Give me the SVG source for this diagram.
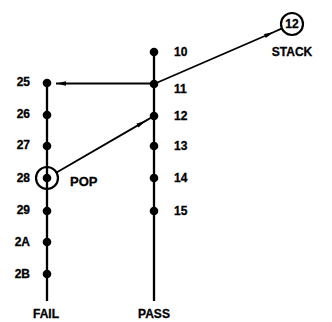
<svg xmlns="http://www.w3.org/2000/svg" width="332" height="322" viewBox="0 0 332 322">
<defs>
<marker id="ah" viewBox="0 0 10 6" refX="10" refY="3" markerWidth="10" markerHeight="6" markerUnits="userSpaceOnUse" orient="auto">
<path d="M0,0.8 L10,3 L0,5.2 Z" fill="#000"/>
</marker>
<style>
text{font-family:"Liberation Sans",Arial,sans-serif;font-weight:bold;font-size:12px;fill:#000;stroke:#000;stroke-width:0.3}
.l{text-anchor:end}
.c{text-anchor:middle}
.bus{stroke:#000;stroke-width:2.3;fill:none}
.cn{stroke:#000;stroke-width:1.9;fill:none}
.dot{fill:#000}
.ring{fill:none;stroke:#000;stroke-width:2.2}
</style>
</defs>
<rect width="332" height="322" fill="#fff"/>
<g id="connectors">
<path class="bus" d="M47,83 L47,301"/>
<path class="bus" d="M154,52 L154,301"/>
<path class="cn" d="M154,83.5 L56,83.5" marker-end="url(#ah)"/>
<path class="cn" d="M154,84 L274,32 L282,28.4" marker-mid="url(#ah)"/>
<path class="cn" d="M56.5,172.5 L146,120.6 L154,116" marker-mid="url(#ah)"/>
</g>
<g id="n10"><circle class="dot" cx="154" cy="52" r="4.3"/><text x="174" y="56">10</text></g>
<g id="n11"><circle class="dot" cx="154" cy="84" r="4.3"/><text x="174" y="93">11</text></g>
<g id="n12"><circle class="dot" cx="154" cy="116" r="4.3"/><text x="174" y="120">12</text></g>
<g id="n13"><circle class="dot" cx="154" cy="146" r="4.3"/><text x="174" y="150">13</text></g>
<g id="n14"><circle class="dot" cx="154" cy="178" r="4.3"/><text x="174" y="182">14</text></g>
<g id="n15"><circle class="dot" cx="154" cy="211" r="4.3"/><text x="174" y="215">15</text></g>
<g id="n25"><circle class="dot" cx="47" cy="83" r="4.3"/><text class="l" x="30" y="86">25</text></g>
<g id="n26"><circle class="dot" cx="47" cy="115" r="4.3"/><text class="l" x="30" y="118">26</text></g>
<g id="n27"><circle class="dot" cx="47" cy="146" r="4.3"/><text class="l" x="30" y="149">27</text></g>
<g id="n28"><circle class="dot" cx="47" cy="178" r="4.3"/><circle class="ring" cx="47" cy="178" r="11"/><text class="l" x="30" y="182">28</text><text x="70" y="186" style="font-size:13px">POP</text></g>
<g id="n29"><circle class="dot" cx="47" cy="211" r="4.3"/><text class="l" x="30" y="214">29</text></g>
<g id="n2A"><circle class="dot" cx="47" cy="242" r="4.3"/><text class="l" x="30" y="246">2A</text></g>
<g id="n2B"><circle class="dot" cx="47" cy="274" r="4.3"/><text class="l" x="30" y="278">2B</text></g>
<g id="stack"><circle class="ring" cx="292" cy="24" r="11"/><text class="c" x="292" y="28">12</text><text class="c" x="292" y="56">STACK</text></g>
<g id="fail"><text class="c" x="46" y="318">FAIL</text></g>
<g id="pass"><text class="c" x="154" y="318">PASS</text></g>
</svg>
